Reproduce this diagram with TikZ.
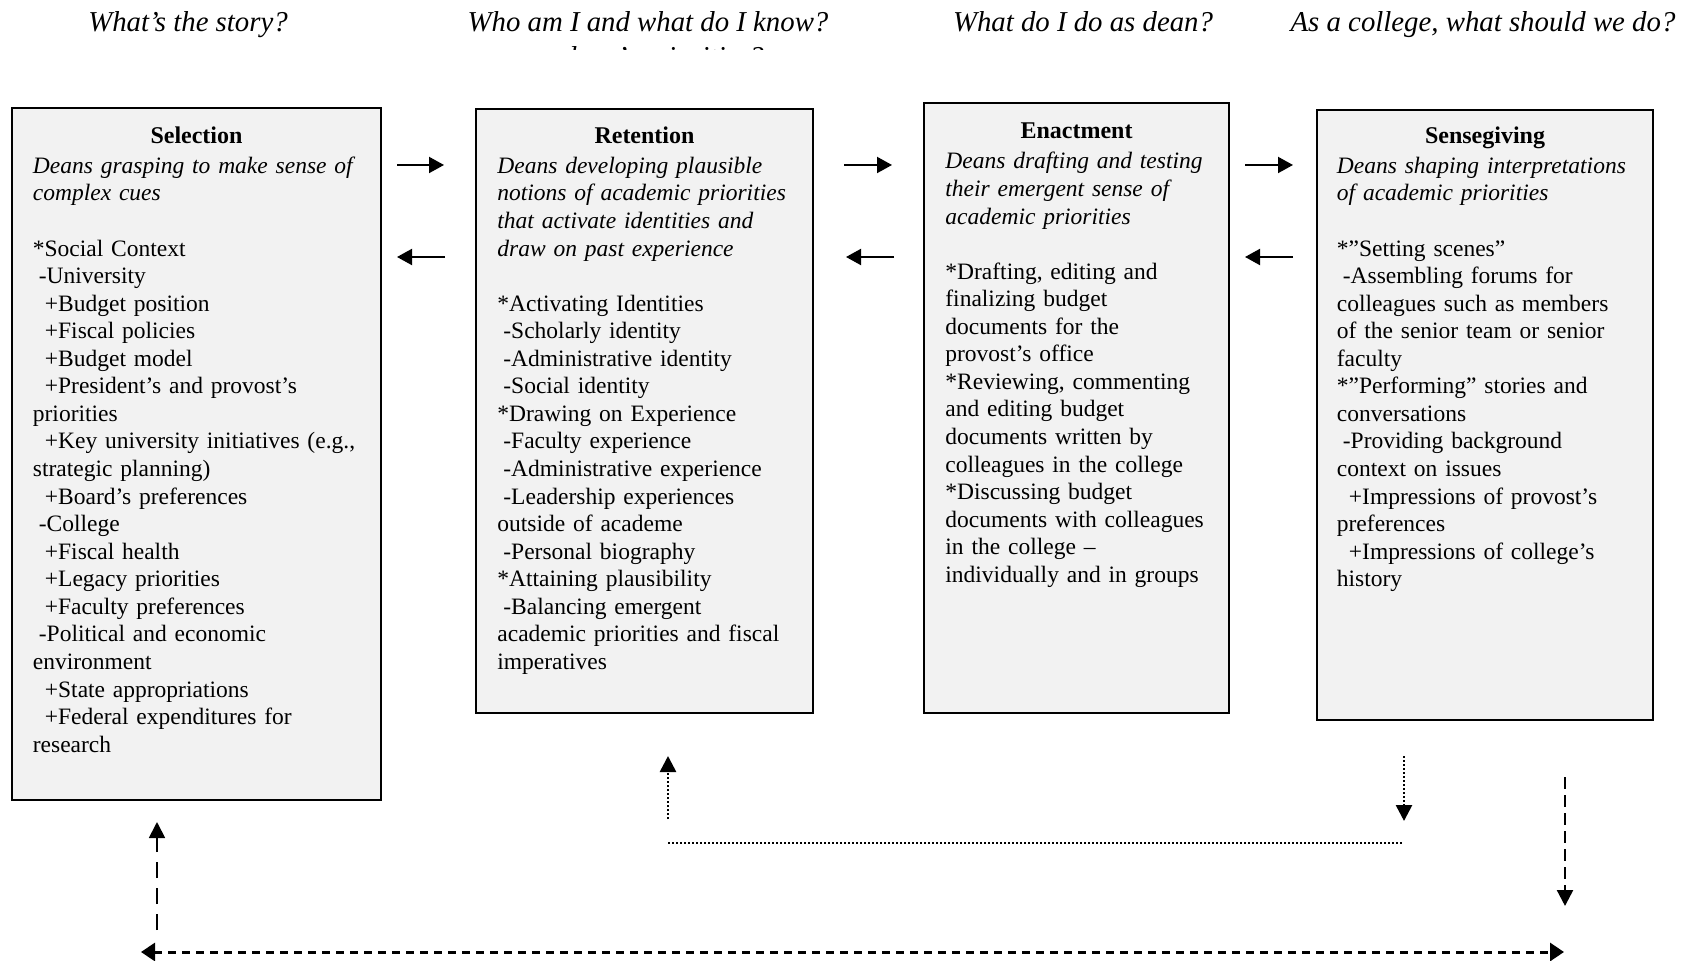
\documentclass[tikz,border=0pt]{standalone}
\usepackage{fontspec}
\setmainfont{Liberation Serif}
\usetikzlibrary{arrows.meta}
\setlength{\parindent}{0pt}
\definecolor{boxgray}{HTML}{F2F2F2}
\newcommand\indA{\hspace*{3pt}}
\newcommand\indB{\hspace*{6pt}}
\newcommand\bodyfont{\fontsize{11.75}{13.78}\selectfont}
\newcommand\titlefont{\fontsize{12}{13.78}\selectfont}
\begin{document}
\begin{tikzpicture}[x=0.5pt,y=-0.5pt,
  stagebox/.style={draw=black, line width=0.9pt, fill=boxgray, inner sep=0pt},
  boxtitle/.style={anchor=base, inner sep=0pt, font=\titlefont\bfseries},
  boxbody/.style={anchor=north west, inner sep=0pt, text width=178pt, align=left, font=\bodyfont},
  heading/.style={anchor=base, inner sep=0pt, font=\fontsize{14.4}{16.5}\selectfont\itshape},
  flowarrow/.style={line width=1pt, -{Triangle[length=7.5pt,width=8pt]}},
  dotline/.style={line width=1.3pt, dash pattern=on 1pt off 1pt},
  dashA/.style={line width=0.9pt, dash pattern=on 8pt off 5pt},
  dashB/.style={line width=1.2pt, dash pattern=on 6pt off 3pt},
  dashC/.style={line width=1.5pt, dash pattern=on 4pt off 3pt},
  tipend/.style={-{Triangle[length=8pt,width=8pt]}}
]
\useasboundingbox (0,0) rectangle (1701,961);

% headings
\node[heading] (h1) at (188,32) {What’s the story?};
\node[heading] (h2) at (648,32) {Who am I and what do I know?};
\node[heading] (h3) at (1083,32) {What do I do as dean?};
\node[heading] (h4) at (1483,32) {As a college, what should we do?};
\begin{scope}
  \clip (400,0) rectangle (900,50);
  \node[heading, anchor=base west] (h2b) at (540,67) {a dean’s priorities?};
\end{scope}

% boxes
\node[stagebox, minimum width=184.5pt, minimum height=346pt] (sel) at (196.5,454) {};
\node[stagebox, minimum width=168.5pt, minimum height=302pt] (ret) at (644.5,411) {};
\node[stagebox, minimum width=152.5pt, minimum height=305pt] (ena) at (1076.5,408) {};
\node[stagebox, minimum width=168pt, minimum height=305pt] (sen) at (1485,415) {};

% titles
\node[boxtitle] (selT) at (196.5,144) {Selection};
\node[boxtitle] (retT) at (644.5,144) {Retention};
\node[boxtitle] (enaT) at (1076.5,139) {Enactment};
\node[boxtitle] (senT) at (1485,144) {Sensegiving};

% bodies
\node[boxbody] (selB) at (32.5,153.7) {\strut\textit{Deans grasping to make sense of}\\
\textit{complex cues}\\
\mbox{}\\
{}*Social Context\\
\indA-University\\
\indB+Budget position\\
\indB+Fiscal policies\\
\indB+Budget model\\
\indB+President’s and provost’s\\
priorities\\
\indB+Key university initiatives (e.g.,\\
strategic planning)\\
\indB+Board’s preferences\\
\indA-College\\
\indB+Fiscal health\\
\indB+Legacy priorities\\
\indB+Faculty preferences\\
\indA-Political and economic\\
environment\\
\indB+State appropriations\\
\indB+Federal expenditures for\\
research};

\node[boxbody] (retB) at (497,153.7) {\strut\textit{Deans developing plausible}\\
\textit{notions of academic priorities}\\
\textit{that activate identities and}\\
\textit{draw on past experience}\\
\mbox{}\\
{}*Activating Identities\\
\indA-Scholarly identity\\
\indA-Administrative identity\\
\indA-Social identity\\
{}*Drawing on Experience\\
\indA-Faculty experience\\
\indA-Administrative experience\\
\indA-Leadership experiences\\
outside of academe\\
\indA-Personal biography\\
{}*Attaining plausibility\\
\indA-Balancing emergent\\
academic priorities and fiscal\\
imperatives};

\node[boxbody] (enaB) at (945,149.2) {\strut\textit{Deans drafting and testing}\\
\textit{their emergent sense of}\\
\textit{academic priorities}\\
\mbox{}\\
{}*Drafting, editing and\\
finalizing budget\\
documents for the\\
provost’s office\\
{}*Reviewing, commenting\\
and editing budget\\
documents written by\\
colleagues in the college\\
{}*Discussing budget\\
documents with colleagues\\
in the college –\\
individually and in groups};

\node[boxbody] (senB) at (1336.5,153.7) {\strut\textit{Deans shaping interpretations}\\
\textit{of academic priorities}\\
\mbox{}\\
{}*”Setting scenes”\\
\indA-Assembling forums for\\
colleagues such as members\\
of the senior team or senior\\
faculty\\
{}*”Performing” stories and\\
conversations\\
\indA-Providing background\\
context on issues\\
\indB+Impressions of provost’s\\
preferences\\
\indB+Impressions of college’s\\
history};

% flow arrows between boxes
\coordinate (r1a) at (397,165);  \coordinate (r1b) at (444,165);
\coordinate (l1a) at (445,257);  \coordinate (l1b) at (397,257);
\coordinate (r2a) at (844,165);  \coordinate (r2b) at (892,165);
\coordinate (l2a) at (894,257);  \coordinate (l2b) at (846,257);
\coordinate (r3a) at (1245,165); \coordinate (r3b) at (1293,165);
\coordinate (l3a) at (1293,257); \coordinate (l3b) at (1245,257);
\draw[flowarrow] (r1a) -- (r1b);
\draw[flowarrow] (l1a) -- (l1b);
\draw[flowarrow] (r2a) -- (r2b);
\draw[flowarrow] (l2a) -- (l2b);
\draw[flowarrow] (r3a) -- (r3b);
\draw[flowarrow] (l3a) -- (l3b);

% feedback connectors
\coordinate (d1a) at (668,819);  \coordinate (d1b) at (668,756);
\coordinate (hl1) at (668,843);  \coordinate (hl2) at (1403,843);
\coordinate (d2a) at (1404,756); \coordinate (d2b) at (1404,821);
\coordinate (d3a) at (1565,777); \coordinate (d3b) at (1565,906);
\coordinate (d4a) at (157,930);  \coordinate (d4b) at (157,822);
\coordinate (hb1) at (141,952);  \coordinate (hb2) at (1564,952);

\draw[dotline, tipend] (d1a) -- (d1b);
\draw[dotline] (hl1) -- (hl2);
\draw[dotline, tipend] (d2a) -- (d2b);
\draw[dashB, tipend] (d3a) -- (d3b);
\draw[dashA, tipend] (d4a) -- (d4b);
\draw[dashC, {Triangle[length=7pt,width=9pt]}-{Triangle[length=7pt,width=9pt]}] (hb1) -- (hb2);
\end{tikzpicture}
\end{document}
